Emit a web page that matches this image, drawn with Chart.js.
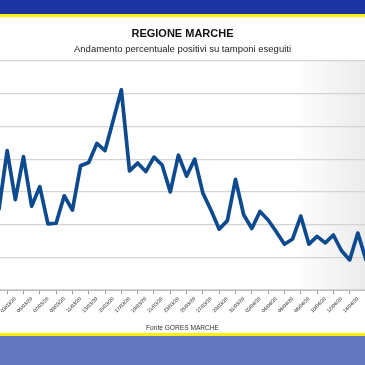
<!DOCTYPE html>
<html lang="it">
<head>
  <meta charset="UTF-8" />
  <title>Regione Marche - positivi su tamponi</title>
  <script src="https://cdn.jsdelivr.net/npm/chart.js"></script>
  <style>
    html, body {
      margin: 0;
      padding: 0;
      width: 365px;
      height: 365px;
      overflow: hidden;
      background: #fff;
      font-family: "Liberation Sans", Arial, sans-serif;
    }
    .band-top {
      position: absolute; left: 0; top: 0; width: 365px; height: 14px;
      background: #1a35a2;
      border-bottom: 3px solid #fff200;
    }
    .band-bottom {
      position: absolute; left: 0; top: 333px; width: 365px; height: 32px;
      background: #6476c0;
      border-top: 3px solid #fff200;
      box-sizing: border-box;
    }
    .wrap {
      position: absolute; left: -20px; top: 18px; width: 410px; height: 315px;
    }
  </style>
</head>
<body>
<div class="band-top"></div>
<div class="wrap"><canvas id="chart"></canvas></div>
<div class="band-bottom"></div>

<script>
  // giorni (uno per punto), etichetta ogni due giorni
  const dates = [
    "01/03/20", "02/03/20", "03/03/20", "04/03/20", "05/03/20", "06/03/20", "07/03/20", "08/03/20",
    "09/03/20", "10/03/20", "11/03/20", "12/03/20", "13/03/20", "14/03/20", "15/03/20", "16/03/20",
    "17/03/20", "18/03/20", "19/03/20", "20/03/20", "21/03/20", "22/03/20", "23/03/20", "24/03/20",
    "25/03/20", "26/03/20", "27/03/20", "28/03/20", "29/03/20", "30/03/20", "31/03/20", "01/04/20",
    "02/04/20", "03/04/20", "04/04/20", "05/04/20", "06/04/20", "07/04/20", "08/04/20", "09/04/20",
    "10/04/20", "11/04/20", "12/04/20", "13/04/20", "14/04/20", "15/04/20"
  ];
  // % positivi su tamponi
  const positivi = [
    12.4, 21.3, 13.8, 20.4, 12.8, 15.8, 10.1, 10.2, 14.4, 12.2,
    19.0, 19.5, 22.4, 21.3, 25.9, 30.6, 18.2, 19.4, 18.1, 20.3,
    19.1, 15.0, 20.6, 17.4, 20.0, 14.8, 12.2, 9.3, 10.6, 16.9,
    11.5, 9.4, 12.0, 10.7, 8.9, 7.0, 7.8, 11.3, 7.0, 8.2,
    7.2, 8.4, 6.0, 4.6, 8.7, 4.6
  ];
  const yMin = 0, yMax = 35, yStep = 5;

  const areaShade = {
    id: "areaShade",
    beforeDraw(chart) {
      const { ctx, chartArea: a } = chart;
      const g = ctx.createLinearGradient(a.left, 0, a.right, 0);
      g.addColorStop(0, "#ffffff");
      g.addColorStop(0.8, "#ffffff");
      g.addColorStop(1, "#ebebeb");
      ctx.save();
      ctx.fillStyle = g;
      ctx.fillRect(a.left, a.top, a.right - a.left, a.bottom - a.top);
      ctx.restore();
    }
  };

  new Chart(document.getElementById("chart"), {
    type: "line",
    data: {
      labels: dates,
      datasets: [{
        data: positivi,
        borderColor: "#0d4a8e",
        borderWidth: 3.7,
        borderJoinStyle: "round",
        borderCapStyle: "round",
        pointRadius: 0,
        tension: 0,
        fill: false
      }]
    },
    options: {
      responsive: true,
      maintainAspectRatio: false,
      animation: false,
      layout: { padding: { left: 19, right: 24, top: 0, bottom: 0 } },
      plugins: {
        legend: { display: false },
        tooltip: { enabled: false },
        title: {
          display: true,
          text: "REGIONE MARCHE",
          color: "#111",
          font: { family: "Liberation Sans", size: 11, weight: "bold" },
          padding: { top: 9.4, bottom: 3 }
        },
        subtitle: {
          display: true,
          text: "Andamento percentuale positivi su tamponi eseguiti",
          color: "#222",
          font: { family: "Liberation Sans", size: 9.5 },
          padding: { top: 0, bottom: 6 }
        }
      },
      scales: {
        x: {
          offset: false,
          border: { display: true, color: "#bdbdbd", width: 1 },
          grid: { drawOnChartArea: false, offset: true, tickLength: 4, color: "#9a9a9a" },
          ticks: {
            autoSkip: false,
            maxRotation: 45,
            minRotation: 45,
            padding: 2,
            color: "#111",
            font: { family: "Liberation Sans", size: 5 },
            callback: (v, i) => (i % 2 === 0 ? dates[i] : null)
          },
          title: {
            display: true,
            text: "Fonte GORES MARCHE",
            color: "#333",
            font: { family: "Liberation Sans", size: 6.6 },
            padding: { top: 0, bottom: 1 }
          },
          afterFit(scale) {
            scale.height = 43;
            scale.paddingLeft = 0;
            scale.paddingRight = 0;
          }
        },
        y: {
          min: yMin,
          max: yMax,
          border: { display: false },
          grid: { color: "#d4d4d4", lineWidth: 1.2, drawTicks: false },
          ticks: { display: false, stepSize: yStep },
          afterFit(scale) {
            scale.width = 0;
            scale.paddingTop = 0;
            scale.paddingBottom = 0;
          }
        }
      }
    },
    plugins: [areaShade]
  });
</script>
</body>
</html>
